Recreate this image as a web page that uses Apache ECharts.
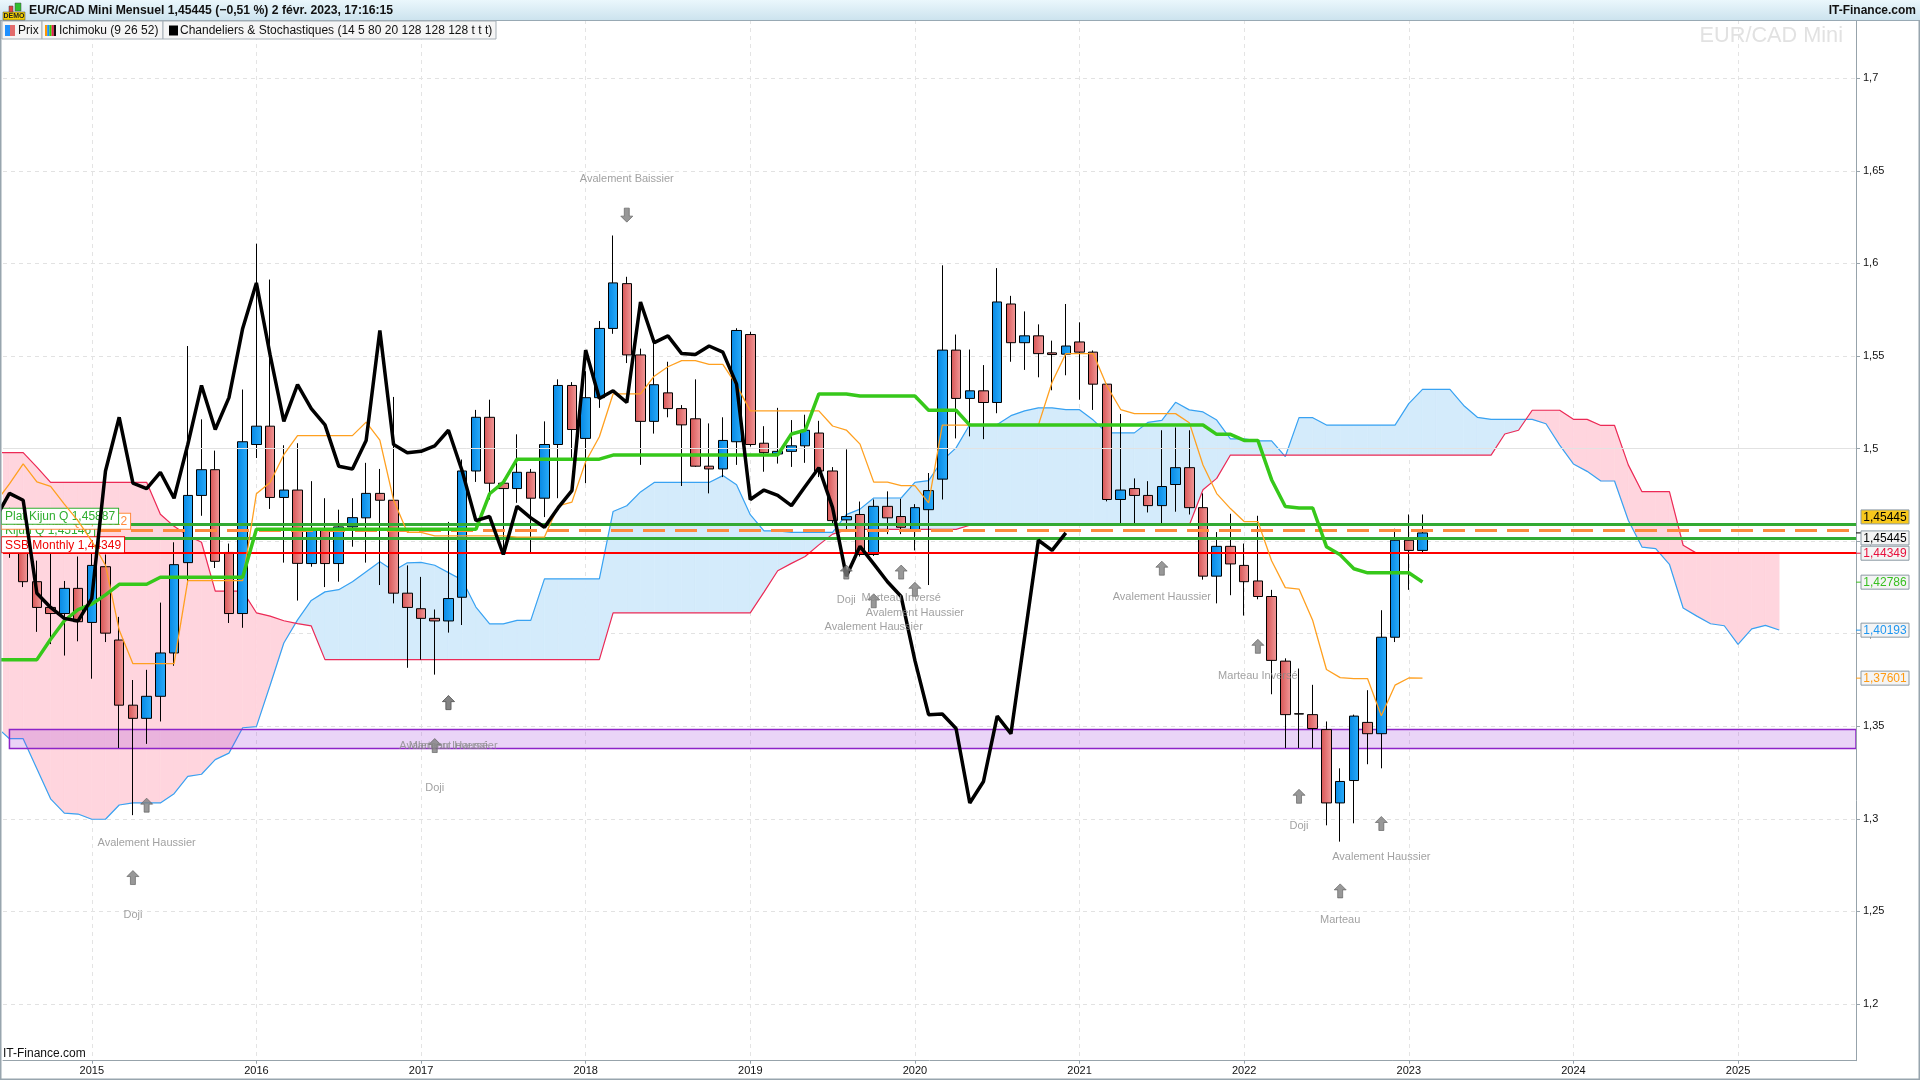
<!DOCTYPE html>
<html><head><meta charset="utf-8">
<script src="https://cdn.jsdelivr.net/npm/echarts@6/dist/echarts.min.js"></script>
<style>html,body{margin:0;padding:0;background:#fff;overflow:hidden}#c{width:1920px;height:1080px}</style>
</head><body><div id="c"></div>
<script>
// ---------- DATA (monthly, EUR/CAD) ----------
// candles start 2014-07 (month index -6, Jan 2015 = 0)
const candleStart = -6;
const opens = [1.460,1.452,1.4281,1.4142,1.4109,1.4245,1.4061,1.4362,1.3966,1.3614,1.3543,1.3662,1.3896,1.4384,1.4747,1.4886,1.4439,1.4109,1.5022,1.5121,1.4736,1.4776,1.4379,1.4559,1.4379,1.4577,1.4626,1.4758,1.4721,1.4219,1.4135,1.4083,1.4069,1.4197,1.4879,1.5169,1.4813,1.4784,1.4872,1.4732,1.5022,1.5341,1.5055,1.5275,1.5649,1.5891,1.5506,1.5147,1.5301,1.5216,1.5161,1.4905,1.4890,1.5037,1.5616,1.5029,1.4971,1.4985,1.5015,1.5084,1.4879,1.4615,1.4644,1.4428,1.4688,1.4633,1.4560,1.4670,1.4835,1.5532,1.5271,1.5312,1.5249,1.5781,1.5572,1.5609,1.5517,1.5510,1.5576,1.5521,1.5348,1.4725,1.4784,1.4747,1.4692,1.4806,1.4897,1.4681,1.4311,1.4472,1.4369,1.4285,1.4201,1.3852,1.3568,1.3563,1.3482,1.3086,1.3207,1.3521,1.3460,1.3981,1.4505,1.4450];
const highs = [1.468,1.456,1.4395,1.4439,1.4285,1.4417,1.4656,1.4428,1.4091,1.3750,1.3805,1.4168,1.4494,1.5554,1.5158,1.4989,1.4487,1.5319,1.6107,1.5913,1.5018,1.5029,1.4824,1.4732,1.4670,1.4732,1.4923,1.4890,1.5279,1.4369,1.4307,1.4131,1.4604,1.4941,1.5209,1.5264,1.4835,1.5077,1.4890,1.5147,1.5374,1.5359,1.5418,1.5689,1.6151,1.5928,1.5540,1.5572,1.5469,1.5235,1.5374,1.5136,1.5169,1.5650,1.5631,1.5121,1.5220,1.5154,1.5183,1.5150,1.4900,1.4996,1.4714,1.4725,1.4769,1.4729,1.4700,1.4868,1.5990,1.5616,1.5535,1.5451,1.5975,1.5825,1.5741,1.5671,1.5583,1.5781,1.5682,1.5530,1.5350,1.5187,1.4839,1.4824,1.5099,1.5114,1.5099,1.4758,1.4549,1.4648,1.4487,1.4637,1.4237,1.3867,1.3812,1.3724,1.3526,1.3273,1.3563,1.3695,1.4127,1.4567,1.4644,1.4644];
const lows = [1.4410,1.4252,1.4010,1.3944,1.3882,1.3959,1.3757,1.3955,1.3383,1.3020,1.3405,1.3526,1.3827,1.4267,1.4637,1.4355,1.4058,1.4032,1.4949,1.4674,1.4384,1.4179,1.4362,1.4252,1.4281,1.4470,1.4384,1.4263,1.4164,1.3816,1.3860,1.3779,1.4006,1.4047,1.4820,1.4725,1.4439,1.4707,1.4439,1.4630,1.4732,1.4945,1.4813,1.5220,1.5620,1.5462,1.4912,1.5081,1.5169,1.4798,1.4901,1.4758,1.4846,1.4912,1.5011,1.4875,1.4919,1.4901,1.4923,1.4846,1.4593,1.4550,1.4417,1.4420,1.4538,1.4538,1.4450,1.4263,1.4725,1.5055,1.5066,1.5051,1.5191,1.5469,1.5425,1.5385,1.5315,1.5396,1.5264,1.5209,1.4715,1.4597,1.4597,1.4655,1.4597,1.4659,1.4644,1.4292,1.4164,1.4208,1.4098,1.4186,1.3673,1.3383,1.3383,1.3383,1.2965,1.2877,1.2976,1.3295,1.3273,1.3955,1.4237,1.4439];
const closes = [1.452,1.4281,1.4142,1.4109,1.4245,1.4065,1.4369,1.4003,1.3614,1.3543,1.3662,1.3896,1.4373,1.4747,1.4886,1.4391,1.4109,1.5037,1.5121,1.4736,1.4776,1.4380,1.4559,1.4379,1.4577,1.4627,1.4758,1.4721,1.4219,1.4142,1.4083,1.4069,1.4190,1.4879,1.5169,1.4813,1.4784,1.4872,1.4732,1.5022,1.5341,1.5103,1.5275,1.5649,1.5895,1.5506,1.5147,1.5345,1.5216,1.5128,1.4905,1.4890,1.5044,1.5638,1.5022,1.4978,1.4985,1.5015,1.5099,1.4879,1.4611,1.4633,1.4428,1.4688,1.4626,1.4575,1.4681,1.4773,1.5532,1.5271,1.5312,1.5249,1.5792,1.5572,1.5609,1.5513,1.5508,1.5554,1.5521,1.5348,1.4725,1.4776,1.4747,1.4692,1.4795,1.4897,1.4681,1.4311,1.4472,1.4377,1.4281,1.4201,1.3856,1.3563,1.3566,1.3488,1.3086,1.3202,1.3555,1.3460,1.3981,1.4505,1.4450,1.45445];
// Ichimoku lines start 2014-06 (month index -7)
const indStart = -7;
const tenkan = [1.471,1.481,1.4918,1.482,1.4796,1.470,1.461,1.450,1.437,1.402,1.3838,1.3838,1.3838,1.3838,1.4287,1.4287,1.4287,1.4287,1.4287,1.4756,1.4817,1.4967,1.5070,1.5070,1.5070,1.5070,1.5070,1.5143,1.5046,1.4722,1.4548,1.4548,1.4529,1.4529,1.4529,1.4529,1.4529,1.4529,1.4522,1.4522,1.4522,1.4690,1.4711,1.4929,1.5064,1.5295,1.5295,1.5295,1.5391,1.5442,1.5475,1.5475,1.5455,1.5455,1.5343,1.5204,1.5204,1.5204,1.5204,1.5204,1.5204,1.5122,1.5100,1.5024,1.4819,1.4819,1.4800,1.4800,1.4707,1.5127,1.5127,1.5127,1.5127,1.5127,1.5127,1.5127,1.5127,1.5358,1.5513,1.5513,1.5513,1.5338,1.5211,1.5189,1.5189,1.5189,1.5189,1.5140,1.4911,1.4757,1.4676,1.4606,1.4606,1.4394,1.4249,1.4241,1.4071,1.3807,1.3763,1.3757,1.3757,1.3557,1.3722,1.3761,1.3760];
const kijun = [1.386,1.386,1.386,1.386,1.397,1.407,1.413,1.416,1.421,1.4267,1.4267,1.4267,1.4305,1.4305,1.4305,1.4305,1.4305,1.4305,1.4305,1.4564,1.4564,1.4564,1.4564,1.4564,1.4564,1.4564,1.4564,1.4564,1.4564,1.4564,1.4564,1.4564,1.4564,1.4564,1.4564,1.4564,1.4756,1.4817,1.4943,1.4943,1.4943,1.4943,1.4943,1.4943,1.4943,1.4965,1.4965,1.4965,1.4965,1.4965,1.4965,1.4965,1.4965,1.4965,1.4965,1.4965,1.4965,1.4965,1.5079,1.5099,1.5295,1.5295,1.5295,1.5284,1.5284,1.5284,1.5284,1.5284,1.5207,1.5207,1.5207,1.5127,1.5127,1.5127,1.5127,1.5127,1.5127,1.5127,1.5127,1.5127,1.5127,1.5127,1.5127,1.5127,1.5127,1.5127,1.5127,1.5127,1.5127,1.5077,1.5077,1.5044,1.5044,1.4832,1.4687,1.4679,1.4679,1.4470,1.4426,1.4351,1.4329,1.4329,1.4329,1.4329,1.4279];
const ssa = [1.350,1.3433,1.3433,1.327,1.3108,1.3031,1.3026,1.2998,1.2998,1.3075,1.3086,1.3086,1.3086,1.3136,1.3229,1.3241,1.3320,1.3355,1.3492,1.3498,1.3722,1.3950,1.4075,1.4180,1.4226,1.4238,1.4281,1.4335,1.4389,1.4340,1.4383,1.4385,1.4370,1.4330,1.4290,1.4144,1.4053,1.4053,1.4072,1.4072,1.4296,1.4296,1.4296,1.4296,1.4296,1.4660,1.4691,1.4766,1.4817,1.4817,1.4817,1.4817,1.4817,1.4854,1.4805,1.4643,1.4556,1.4556,1.4547,1.4547,1.4547,1.4547,1.4643,1.4673,1.4733,1.4733,1.4733,1.4817,1.4827,1.4936,1.5004,1.5130,1.5130,1.5130,1.5178,1.5204,1.5220,1.5220,1.5210,1.5210,1.5154,1.5085,1.5085,1.5085,1.5142,1.5152,1.5250,1.5209,1.5198,1.5154,1.5052,1.5052,1.5042,1.5042,1.4957,1.5167,1.5167,1.5127,1.5127,1.5127,1.5127,1.5127,1.5127,1.5243,1.5320,1.5320,1.5320,1.5233,1.5169,1.5158,1.5158,1.5158,1.5158,1.5134,1.5019,1.4917,1.4877,1.4825,1.4825,1.4613,1.4468,1.4460,1.4375,1.4139,1.4095,1.4054,1.4043,1.3943,1.4026,1.4045,1.4020];
const ssb = [1.4978,1.4978,1.4978,1.490,1.4818,1.4818,1.4818,1.4818,1.4818,1.4818,1.4818,1.4818,1.4645,1.458,1.453,1.4494,1.423,1.423,1.423,1.4113,1.4095,1.4070,1.4055,1.4042,1.386,1.386,1.386,1.386,1.386,1.386,1.386,1.386,1.386,1.386,1.386,1.386,1.386,1.386,1.386,1.386,1.386,1.386,1.386,1.386,1.386,1.4113,1.4113,1.4113,1.4113,1.4113,1.4113,1.4113,1.4113,1.4113,1.4113,1.4113,1.4225,1.434,1.438,1.4417,1.448,1.4538,1.456,1.4564,1.4564,1.4564,1.4564,1.4564,1.4564,1.4564,1.4564,1.4586,1.4586,1.4586,1.4586,1.4586,1.4586,1.4586,1.4586,1.4586,1.4586,1.4586,1.4586,1.4586,1.4586,1.4586,1.4586,1.4586,1.4778,1.4839,1.4965,1.4965,1.4965,1.4965,1.4965,1.4965,1.4965,1.4965,1.4965,1.4965,1.4965,1.4965,1.4965,1.4965,1.4965,1.4965,1.4965,1.4965,1.4965,1.4965,1.5079,1.5099,1.5207,1.5207,1.5207,1.5158,1.5158,1.5125,1.5125,1.4912,1.4767,1.4767,1.4767,1.4478,1.4434,1.4434,1.4434,1.4434,1.4434,1.4434,1.4434];
const chikouShift = 26;
const yearLabels = ['2015','2016','2017','2018','2019','2020','2021','2022','2023','2024','2025'];
const priceTicks = [1.2,1.25,1.3,1.35,1.4,1.45,1.5,1.55,1.6,1.65,1.7];
const levelNames = ['Kijun Q','Plat Tenkan Q','Plat Kijun Q','SSB Monthly'];
const levelValues = [1.45146,1.45612,1.45887,1.44349];
const bandRange = [1.3380,1.3482];
const tagValues = [1.45445,1.45445,1.44349,1.42786,1.40193,1.37601];
const patMonths = [3,4,25,26,26,39,55,57,59,60,78,85,88,91,94];
const patArrow = [1.2683,1.3074,1.3396,1.3628,1.3628,1.6261,1.4333,1.4178,1.4333,1.4240,1.4354,1.3932,1.3122,1.2611,1.2975];
const patText = [1.2479,1.2869,1.3168,1.3396,1.3396,1.6459,1.4183,1.4038,1.4191,1.4112,1.4201,1.3774,1.2960,1.2452,1.2795];
const patNames = ['Doji','Avalement Haussier','Doji','Avalement Haussier','Marteau Inversé','Avalement Baissier','Doji','Avalement Haussier','Marteau Inversé','Avalement Haussier','Avalement Haussier','Marteau Inversé','Doji','Marteau','Avalement Haussier'];
const patUp = [1,1,1,1,1,0,1,1,1,1,1,1,1,1,1];

// ---------- STYLE ----------
const X_MIN = -6.47, X_MAX = 128.6, Y_MIN = 1.16937, Y_MAX = 1.7315;
const FONT = '"Liberation Sans", Arial, sans-serif';
const PINK = '#FFD5DE', LBLUE = '#D4EBFB';
const levelStyles = [
  {color:'#33AA33', lab:'#2FAE2F', type:'solid', width:3, z:8},
  {color:'#FF8A3D', lab:'#FF8A3D', type:[22,10], width:3, z:9},
  {color:'#33AA33', lab:'#2FAE2F', type:'solid', width:3, z:10},
  {color:'#FF0000', lab:'#F00000', type:'solid', width:2, z:11}
];
const tagStyles = [
  {bg:'#F7C81C', color:'#000', tick:null, dy:-16},
  {bg:'#F4F4F4', color:'#000', tick:'#000', dy:5},
  {bg:'#F4F4F4', color:'#E8103C', tick:'#E8103C', dy:0},
  {bg:'#F4F4F4', color:'#38C020', tick:'#38C020', dy:0},
  {bg:'#F4F4F4', color:'#1E96F0', tick:'#1E96F0', dy:0},
  {bg:'#F4F4F4', color:'#FF9A10', tick:'#FF9A10', dy:0}
];
const fmt = v => v.toFixed(5).replace('.', ',');
const fmtTick = v => (Math.round(v*100)/100).toString().replace('.', ',');

// ---------- BUILD ----------
const candleData = opens.map((o,i)=>[i+candleStart, o, closes[i], lows[i], highs[i]]);
const lineData = arr => arr.map((v,i)=>[i+indStart, v]);
const chikouData = closes.slice(chikouShift + indStart - candleStart).map((c,i)=>[i+indStart, c]);
const cloudData = ssa.map((v,i)=>[i+indStart, v, ssb[i]]);
const yearPos = yearLabels.map((y,i)=>i*12);

function cloudItem(params, api){
  const i = params.dataIndex;
  if (i >= ssa.length-1) return null;
  const x0 = i+indStart, x1 = x0+1;
  const a0=ssa[i], a1=ssa[i+1], b0=ssb[i], b1=ssb[i+1];
  const d0=a0-b0, d1=a1-b1;
  const P=(x,y)=>api.coord([x,y]);
  const col=d=> d>=0 ? LBLUE : PINK;
  const ch=[];
  const poly=(pts,c)=>({type:'polygon', shape:{points:pts}, style:{fill:c, stroke:c, lineWidth:0.6}, silent:true});
  if ((d0>=0&&d1>=0)||(d0<=0&&d1<=0)){
    ch.push(poly([P(x0,a0),P(x1,a1),P(x1,b1),P(x0,b0)], col(d0+d1)));
  } else {
    const t=d0/(d0-d1); const xc=x0+t, yc=a0+t*(a1-a0);
    ch.push(poly([P(x0,a0),P(xc,yc),P(x0,b0)], col(d0)));
    ch.push(poly([P(xc,yc),P(x1,a1),P(x1,b1)], col(d1)));
  }
  return {type:'group', children:ch};
}
function bandItem(params, api){
  const p0 = api.coord([candleStart, bandRange[1]]);
  const p1 = api.coord([X_MAX, bandRange[0]]);
  return {type:'rect', shape:{x:p0[0], y:p0[1], width:p1[0]-p0[0], height:p1[1]-p0[1]}, style:{fill:'rgba(160,60,220,0.22)', stroke:'#8E24C8', lineWidth:1.5}, silent:true};
}
function tagItem(params, api){
  const i = params.dataIndex, v = tagValues[i], st = tagStyles[i];
  const p = api.coord([X_MAX, v]);
  const x0 = p[0], y = p[1], yb = y + st.dy;
  const ch = [];
  if (st.tick) ch.push({type:'line', shape:{x1:x0, y1:y, x2:x0+5, y2:y}, style:{stroke:st.tick, lineWidth:1}});
  ch.push({type:'rect', shape:{x:x0+5, y:yb-7, width:48, height:14}, style:{fill:st.bg, stroke:'#8C9AA4', lineWidth:1}});
  ch.push({type:'text', style:{x:x0+29, y:yb+0.5, text:fmt(v), fill:st.color, font:'12px '+FONT, align:'center', verticalAlign:'middle', textAlign:'center', textVerticalAlign:'middle'}});
  return {type:'group', children:ch};
}

const upArrow = 'path://M6,0L12,6L8.5,6L8.5,14L3.5,14L3.5,6L0,6Z';
const downArrow = 'path://M3.5,0L8.5,0L8.5,8L12,8L6,14L0,8L3.5,8Z';
const arrowData = patMonths.map((m,i)=>({value:[m, patArrow[i]], symbol: patUp[i]?upArrow:downArrow}));
const textData = patMonths.map((m,i)=>({value:[m, patText[i]], name: patNames[i]}));

const levelSeries = levelValues.map((v,i)=>{
  const st = levelStyles[i];
  return {type:'line', data:[], z:st.z, silent:true, markLine:{silent:true, precision:5, symbol:['none','none'], animation:false,
    lineStyle:{color:st.color, width:st.width, type:st.type},
    label:{show:true, position:'insideStartTop', distance:[-1,1], formatter: levelNames[i]+' '+fmt(v), color:st.lab,
      backgroundColor:'#fff', borderColor:st.lab, borderWidth:1, padding:[2,3,1,3], fontSize:12, fontFamily:FONT},
    emphasis:{disabled:true},
    data:[{yAxis:v}]}};
});

const up = new echarts.graphic.LinearGradient(0,0,1,0,[{offset:0,color:'#0688E4'},{offset:1,color:'#2AACFA'}]);
const down = new echarts.graphic.LinearGradient(0,0,1,0,[{offset:0,color:'#D65454'},{offset:1,color:'#F29A9A'}]);

const option = {
  animation:false,
  backgroundColor:'#fff',
  grid:{left:3, right:64, top:20, bottom:19.3, containLabel:false, outerBoundsMode:'none'},
  xAxis:{type:'value', min:X_MIN, max:X_MAX, position:'bottom',
    axisLine:{show:true, onZero:false, lineStyle:{color:'#97A3AB', width:1}},
    axisTick:{show:true, customValues:yearPos, length:3, lineStyle:{color:'#97A3AB'}},
    axisLabel:{show:true, customValues:yearPos, formatter:v=>yearLabels[Math.round(v/12)], color:'#111', fontSize:11, fontFamily:FONT, margin:5},
    splitLine:{show:true, lineStyle:{color:'#E4E4E4', type:[4,4], width:1}}},
  yAxis:{type:'value', min:Y_MIN, max:Y_MAX, position:'right', scale:true,
    axisLine:{show:true, onZero:false, lineStyle:{color:'#97A3AB', width:1}},
    axisTick:{show:true, customValues:priceTicks, length:4, inside:false, lineStyle:{color:'#97A3AB'}},
    axisLabel:{show:true, customValues:priceTicks, formatter:fmtTick, color:'#111', fontSize:11, fontFamily:FONT, margin:7},
    splitLine:{show:true, lineStyle:{color:'#E2E2E2', type:[4,4], width:1}}},
  series:[
    {type:'custom', name:'cloud', renderItem:cloudItem, data:cloudData, encode:{x:0, y:[1,2]}, clip:true, z:1, silent:true},
    {type:'line', name:'round', data:[], z:1, silent:true, markLine:{silent:true, precision:5, symbol:['none','none'], label:{show:false}, lineStyle:{color:'#E2E2E2', width:1, type:'solid'}, data:[{yAxis:1.5}]}},
    {type:'line', name:'SSA', data:lineData(ssa), showSymbol:false, symbol:'none', lineStyle:{color:'#38A2F2', width:1.2}, z:2, silent:true},
    {type:'line', name:'SSB', data:lineData(ssb), showSymbol:false, symbol:'none', lineStyle:{color:'#EC2A56', width:1.2}, z:2, silent:true},
    {type:'custom', name:'band', renderItem:bandItem, data:[[candleStart, bandRange[0]]], encode:{x:0, y:1}, clip:true, z:3, silent:true},
    {type:'candlestick', name:'Prix', data:candleData, encode:{x:0, y:[1,2,3,4]}, barWidth:10, z:4, silent:true,
      itemStyle:{color:up, color0:down, borderColor:'#000', borderColor0:'#000', borderColorDoji:'#000', borderWidth:1}},
    {type:'line', name:'Tenkan', data:lineData(tenkan), showSymbol:false, symbol:'none', lineStyle:{color:'#FFA020', width:1.3}, z:5, silent:true},
    {type:'line', name:'Kijun', data:lineData(kijun), showSymbol:false, symbol:'none', lineStyle:{color:'#36C81A', width:3.5}, z:6, silent:true},
    {type:'line', name:'Chikou', data:chikouData, showSymbol:false, symbol:'none', lineStyle:{color:'#000', width:3.5}, z:7, silent:true},
    ...levelSeries,
    {type:'scatter', name:'arrows', data:arrowData, symbolSize:[12,14], itemStyle:{color:'#7E7E7E', borderColor:'#5A5A5A', borderWidth:0.8}, z:12, silent:true},
    {type:'scatter', name:'patterns', data:textData, symbolSize:0, z:12, silent:true,
      label:{show:true, position:'inside', formatter:p=>p.name, color:'#8A8A8A', fontSize:11, fontFamily:FONT}},
    {type:'custom', name:'tags', renderItem:tagItem, data:tagValues.map((v,i)=>[X_MAX, v]), encode:{x:0, y:1}, clip:false, z:13, silent:true}
  ],
  graphic:[
    {type:'rect', z:100, shape:{x:0, y:0, width:1920, height:20}, style:{fill:new echarts.graphic.LinearGradient(0,0,0,1,[{offset:0,color:'#EAF7FC'},{offset:1,color:'#CCE3EE'}])}},
    {type:'rect', z:100, shape:{x:0, y:20, width:1920, height:1}, style:{fill:'#98A9B4'}},
    {type:'rect', z:101, shape:{x:3, y:12, width:22, height:8}, style:{fill:'#F4D000', stroke:'#444', lineWidth:0.5}},
    {type:'text', z:102, style:{x:14, y:16.5, text:'DEMO', font:'bold 7px '+FONT, fill:'#222', textAlign:'center', textVerticalAlign:'middle', align:'center', verticalAlign:'middle'}},
    {type:'rect', z:101, shape:{x:9, y:6, width:4, height:6}, style:{fill:'#E04040', stroke:'#444', lineWidth:0.5}},
    {type:'rect', z:101, shape:{x:15, y:3, width:6, height:8}, style:{fill:'#30C030', stroke:'#444', lineWidth:0.5}},
    {type:'text', z:102, style:{x:29, y:11, text:'EUR/CAD Mini Mensuel 1,45445 (\u22120,51 %) 2 févr. 2023, 17:16:15', font:'bold 12.2px '+FONT, fill:'#111', textVerticalAlign:'middle', verticalAlign:'middle'}},
    {type:'text', z:102, style:{x:1916, y:11, text:'IT-Finance.com', font:'bold 12px '+FONT, fill:'#111', textAlign:'right', align:'right', textVerticalAlign:'middle', verticalAlign:'middle'}},
    {type:'rect', z:100, shape:{x:2, y:21, width:40, height:18}, style:{fill:'#F5F5F5', stroke:'#A6AFB6', lineWidth:1}},
    {type:'rect', z:100, shape:{x:42, y:21, width:121, height:18}, style:{fill:'#F5F5F5', stroke:'#A6AFB6', lineWidth:1}},
    {type:'rect', z:100, shape:{x:163, y:21, width:333, height:18}, style:{fill:'#F5F5F5', stroke:'#A6AFB6', lineWidth:1}},
    {type:'rect', z:101, shape:{x:5, y:25, width:5, height:11}, style:{fill:'#1E90FF'}},
    {type:'rect', z:101, shape:{x:10, y:25, width:5, height:11}, style:{fill:'#E36B6B'}},
    {type:'text', z:102, style:{x:18, y:30.5, text:'Prix', font:'12px '+FONT, fill:'#111', textVerticalAlign:'middle', verticalAlign:'middle'}},
    {type:'rect', z:101, shape:{x:45, y:25, width:2.2, height:11}, style:{fill:'#FF9900'}},
    {type:'rect', z:101, shape:{x:47.2, y:25, width:2.2, height:11}, style:{fill:'#1E90FF'}},
    {type:'rect', z:101, shape:{x:49.4, y:25, width:2.2, height:11}, style:{fill:'#33CC00'}},
    {type:'rect', z:101, shape:{x:51.6, y:25, width:2.2, height:11}, style:{fill:'#E8204F'}},
    {type:'rect', z:101, shape:{x:53.8, y:25, width:2.2, height:11}, style:{fill:'#111'}},
    {type:'text', z:102, style:{x:59, y:30.5, text:'Ichimoku (9 26 52)', font:'12px '+FONT, fill:'#111', textVerticalAlign:'middle', verticalAlign:'middle'}},
    {type:'rect', z:101, shape:{x:169, y:25.5, width:9, height:10}, style:{fill:'#000'}},
    {type:'text', z:102, style:{x:180, y:30.5, text:'Chandeliers & Stochastiques (14 5 80 20 128 128 128 t t t)', font:'12px '+FONT, fill:'#111', textVerticalAlign:'middle', verticalAlign:'middle'}},
    {type:'text', z:99, style:{x:1843, y:36, text:'EUR/CAD Mini', font:'21.7px '+FONT, fill:'#E2E2E2', textAlign:'right', align:'right', textVerticalAlign:'middle', verticalAlign:'middle'}},
    {type:'text', z:99, style:{x:3, y:1054, text:'IT-Finance.com', font:'12px '+FONT, fill:'#111', textVerticalAlign:'middle', verticalAlign:'middle'}},
    {type:'rect', z:100, shape:{x:0, y:20, width:1.5, height:1060}, style:{fill:'#98A5AE'}},
    {type:'rect', z:100, shape:{x:0, y:1078.5, width:1920, height:1.5}, style:{fill:'#98A5AE'}},
    {type:'rect', z:100, shape:{x:1918.5, y:20, width:1.5, height:1060}, style:{fill:'#98A5AE'}}
  ]
};
const chart = echarts.init(document.getElementById('c'), null, {renderer:'canvas', width:1920, height:1080});
chart.setOption(option);
</script>
</body></html>
